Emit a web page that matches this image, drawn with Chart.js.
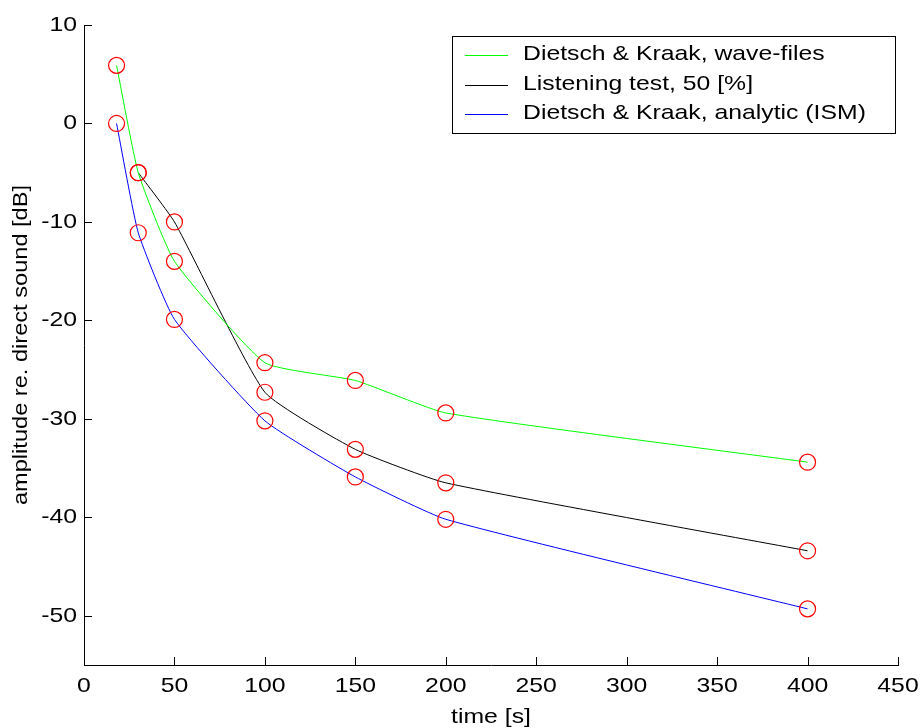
<!DOCTYPE html>
<html>
<head>
<meta charset="utf-8">
<title>Amplitude vs time</title>
<script src="https://cdn.jsdelivr.net/npm/chart.js@4.4.1/dist/chart.umd.min.js"></script>
<style>
    body { margin: 0; background: #fff; }
    canvas { display: block; }
</style>
</head>
<body>
<canvas id="ampChart" width="921" height="728"></canvas>
<script>
// measured points
const timeWave = [18, 30, 50, 100, 150, 200, 400];
const ampWave = [5.9, -5, -14, -24.3, -26.1, -29.4, -34.4];

const timeListen = [30, 50, 100, 150, 200, 400];
const ampListen = [-5, -10, -27.3, -33.1, -36.5, -43.4];

const timeIsm = [18, 30, 50, 100, 150, 200, 400];
const ampIsm = [0, -11.1, -19.9, -30.2, -35.9, -40.2, -49.3];

const seriesLabels = ['Dietsch & Kraak, wave-files', 'Listening test, 50 [%]', 'Dietsch & Kraak, analytic (ISM)'];

const xTicks = [0, 50, 100, 150, 200, 250, 300, 350, 400, 450];
const yTicks = [10, 0, -10, -20, -30, -40, -50];

const FONT = 'Arial, "Liberation Sans", Helvetica, sans-serif';
const WIDEN = 1.18; // glyphs drawn a bit wider than the font's own shapes

function toPoints(xs, ys) {
    return xs.map((x, i) => ({ x: x, y: ys[i] }));
}

function lineSet(label, xs, ys, color) {
    return {
        type: 'line',
        label: label,
        data: toPoints(xs, ys),
        borderColor: color,
        backgroundColor: color,
        borderWidth: 1,
        pointRadius: 0,
        tension: 0.15,
        fill: false,
        order: 1
    };
}

// every measured point gets a red ring
const ringPoints = [
    ...toPoints(timeWave, ampWave),
    ...toPoints(timeListen, ampListen),
    ...toPoints(timeIsm, ampIsm)
];

// stretch text horizontally; measureText reports the stretched width so layout stays right
function widenText(ctx) {
    const fill = ctx.fillText.bind(ctx);
    const measure = ctx.measureText.bind(ctx);
    ctx.fillText = function (text, x, y, maxWidth) {
        ctx.save();
        ctx.translate(x, y);
        ctx.scale(WIDEN, 1);
        if (maxWidth === undefined) {
            fill(text, 0, 0);
        } else {
            fill(text, 0, 0, maxWidth / WIDEN);
        }
        ctx.restore();
    };
    ctx.measureText = function (text) {
        const m = measure(text);
        return {
            width: m.width * WIDEN,
            actualBoundingBoxAscent: m.actualBoundingBoxAscent,
            actualBoundingBoxDescent: m.actualBoundingBoxDescent,
            actualBoundingBoxLeft: m.actualBoundingBoxLeft * WIDEN,
            actualBoundingBoxRight: m.actualBoundingBoxRight * WIDEN
        };
    };
}

const whiteBg = {
    id: 'whiteBg',
    beforeDraw(chart) {
        const ctx = chart.ctx;
        ctx.save();
        ctx.fillStyle = '#fff';
        ctx.fillRect(0, 0, chart.width, chart.height);
        ctx.restore();
    }
};

// short tick marks pointing into the plot
const inwardTicks = {
    id: 'inwardTicks',
    afterDraw(chart) {
        const { ctx, chartArea, scales } = chart;
        ctx.save();
        ctx.strokeStyle = '#000';
        ctx.lineWidth = 1;
        ctx.beginPath();
        xTicks.forEach(v => {
            const px = Math.round(scales.x.getPixelForValue(v)) + 0.5;
            ctx.moveTo(px, chartArea.bottom);
            ctx.lineTo(px, chartArea.bottom - 8);
        });
        yTicks.forEach(v => {
            const py = Math.round(scales.y.getPixelForValue(v)) + 0.5;
            ctx.moveTo(chartArea.left, py);
            ctx.lineTo(chartArea.left + 8, py);
        });
        ctx.stroke();
        ctx.restore();
    }
};

// boxed legend in the upper right
const boxLegend = {
    id: 'boxLegend',
    afterDraw(chart) {
        const ctx = chart.ctx;
        const box = { x: 452.5, y: 36.5, w: 443, h: 97 };
        const rows = [54, 84, 113];
        ctx.save();
        ctx.fillStyle = '#fff';
        ctx.fillRect(box.x, box.y, box.w, box.h);
        ctx.strokeStyle = '#000';
        ctx.lineWidth = 1;
        ctx.strokeRect(box.x, box.y, box.w, box.h);
        ctx.font = '21px ' + FONT;
        ctx.textBaseline = 'middle';
        ctx.textAlign = 'left';
        const lines = chart.data.datasets.filter(d => d.type === 'line');
        lines.forEach((ds, i) => {
            const y = rows[i];
            ctx.strokeStyle = ds.borderColor;
            ctx.beginPath();
            ctx.moveTo(465, Math.round(y) + 1.5);
            ctx.lineTo(508, Math.round(y) + 1.5);
            ctx.stroke();
            ctx.fillStyle = '#000';
            ctx.fillText(ds.label, 523, y);
        });
        ctx.restore();
    }
};

const ctx = document.getElementById('ampChart').getContext('2d');
widenText(ctx);

new Chart(ctx, {
    data: {
        datasets: [
            {
                type: 'scatter',
                label: 'points',
                data: ringPoints,
                pointStyle: 'circle',
                pointRadius: 8,
                pointHoverRadius: 8,
                pointBorderWidth: 1.2,
                pointBorderColor: '#ff0000',
                pointBackgroundColor: 'rgba(0,0,0,0)',
                order: 0
            },
            lineSet(seriesLabels[0], timeWave, ampWave, '#00ff00'),
            lineSet(seriesLabels[1], timeListen, ampListen, '#000000'),
            lineSet(seriesLabels[2], timeIsm, ampIsm, '#0000ff')
        ]
    },
    options: {
        responsive: false,
        devicePixelRatio: 1,
        animation: false,
        layout: { padding: { top: 25, right: 23, bottom: 0, left: 0 } },
        plugins: {
            legend: { display: false },
            tooltip: { enabled: false }
        },
        scales: {
            x: {
                type: 'linear',
                min: 0,
                max: 450,
                afterBuildTicks: scale => { scale.ticks = xTicks.map(v => ({ value: v })); },
                afterFit: scale => {
                    scale.height = 63;
                    scale.paddingLeft = 0;
                    scale.paddingRight = 0;
                },
                grid: { display: false, drawTicks: false },
                border: { display: true, color: '#000', width: 1 },
                ticks: {
                    color: '#000',
                    font: { family: FONT, size: 21 },
                    padding: 9,
                    maxRotation: 0,
                    autoSkip: false
                },
                title: {
                    display: true,
                    text: 'time [s]',
                    color: '#000',
                    font: { family: FONT, size: 21, lineHeight: 1 },
                    padding: { top: 0, bottom: 0 }
                }
            },
            y: {
                type: 'linear',
                min: -55,
                max: 10,
                afterBuildTicks: scale => { scale.ticks = yTicks.map(v => ({ value: v })); },
                afterFit: scale => {
                    scale.width = 84;
                    scale.paddingTop = 0;
                    scale.paddingBottom = 0;
                },
                grid: { display: false, drawTicks: false },
                border: { display: true, color: '#000', width: 1 },
                ticks: {
                    color: '#000',
                    font: { family: FONT, size: 21 },
                    padding: 7,
                    autoSkip: false
                },
                title: {
                    display: true,
                    text: 'amplitude re. direct sound [dB]',
                    color: '#000',
                    font: { family: FONT, size: 20, lineHeight: 1 },
                    padding: { top: 11, bottom: 0 }
                }
            }
        }
    },
    plugins: [whiteBg, inwardTicks, boxLegend]
});
</script>
</body>
</html>
